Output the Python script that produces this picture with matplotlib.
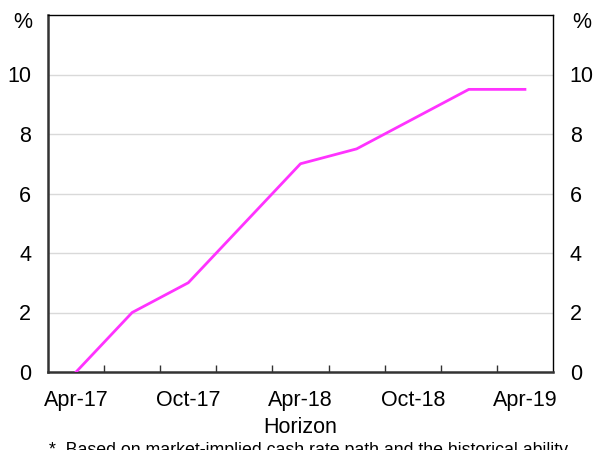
import matplotlib.pyplot as plt

plt.rcParams['font.family'] = ['Liberation Sans', 'DejaVu Sans']

quarters = ['Apr-17', 'Jul-17', 'Oct-17', 'Jan-18', 'Apr-18', 'Jul-18', 'Oct-18', 'Jan-19', 'Apr-19']
values = [0, 2, 3, 5, 7, 7.5, 8.5, 9.5, 9.5]
yticks = [0, 2, 4, 6, 8, 10]

fig = plt.figure(figsize=(6.05, 4.5), dpi=100)
ax = fig.add_axes([48/605, 1 - 372/450, (553 - 48)/605, (372 - 15)/450])

x = list(range(len(quarters)))
ax.plot(x, values, color='#FF33FF', linewidth=2, zorder=3)

ax.set_xlim(-0.5, len(quarters) - 0.5)
ax.set_ylim(0, 12)
for y in yticks[1:]:
    ax.axhline(y, color='#d9d9d9', linewidth=1, zorder=1)

ax.set_xticks(x[::2])
ax.set_xticklabels(quarters[::2], fontsize=15.5)
ax.tick_params(axis='x', length=0, pad=13)
ax.set_xticks([i + 0.5 for i in x[:-1]], minor=True)
ax.tick_params(axis='x', which='minor', direction='in', length=5, width=1, color='#333333')

ax.set_yticks(yticks)
ax.tick_params(axis='y', length=0, labelsize=15.5, pad=12, right=True, labelright=True)

ax.spines['left'].set_linewidth(1.8)
ax.spines['left'].set_color('#333333')
ax.spines['bottom'].set_linewidth(1.8)
ax.spines['bottom'].set_color('#333333')
ax.spines['top'].set_linewidth(1)
ax.spines['right'].set_linewidth(1)

ax.text(-16/505, 1 - 8/357, '%', transform=ax.transAxes, ha='right', va='center', fontsize=15.5)
ax.text(1 + 19/505, 1 - 8/357, '%', transform=ax.transAxes, ha='left', va='center', fontsize=15.5)

ax.set_xlabel('Horizon', fontsize=15.5, labelpad=4)
fig.text(0.51, 1 - 451/450, '*  Based on market-implied cash rate path and the historical ability',
         ha='center', va='center', fontsize=12.8)

fig.savefig('out.png', dpi=100)
